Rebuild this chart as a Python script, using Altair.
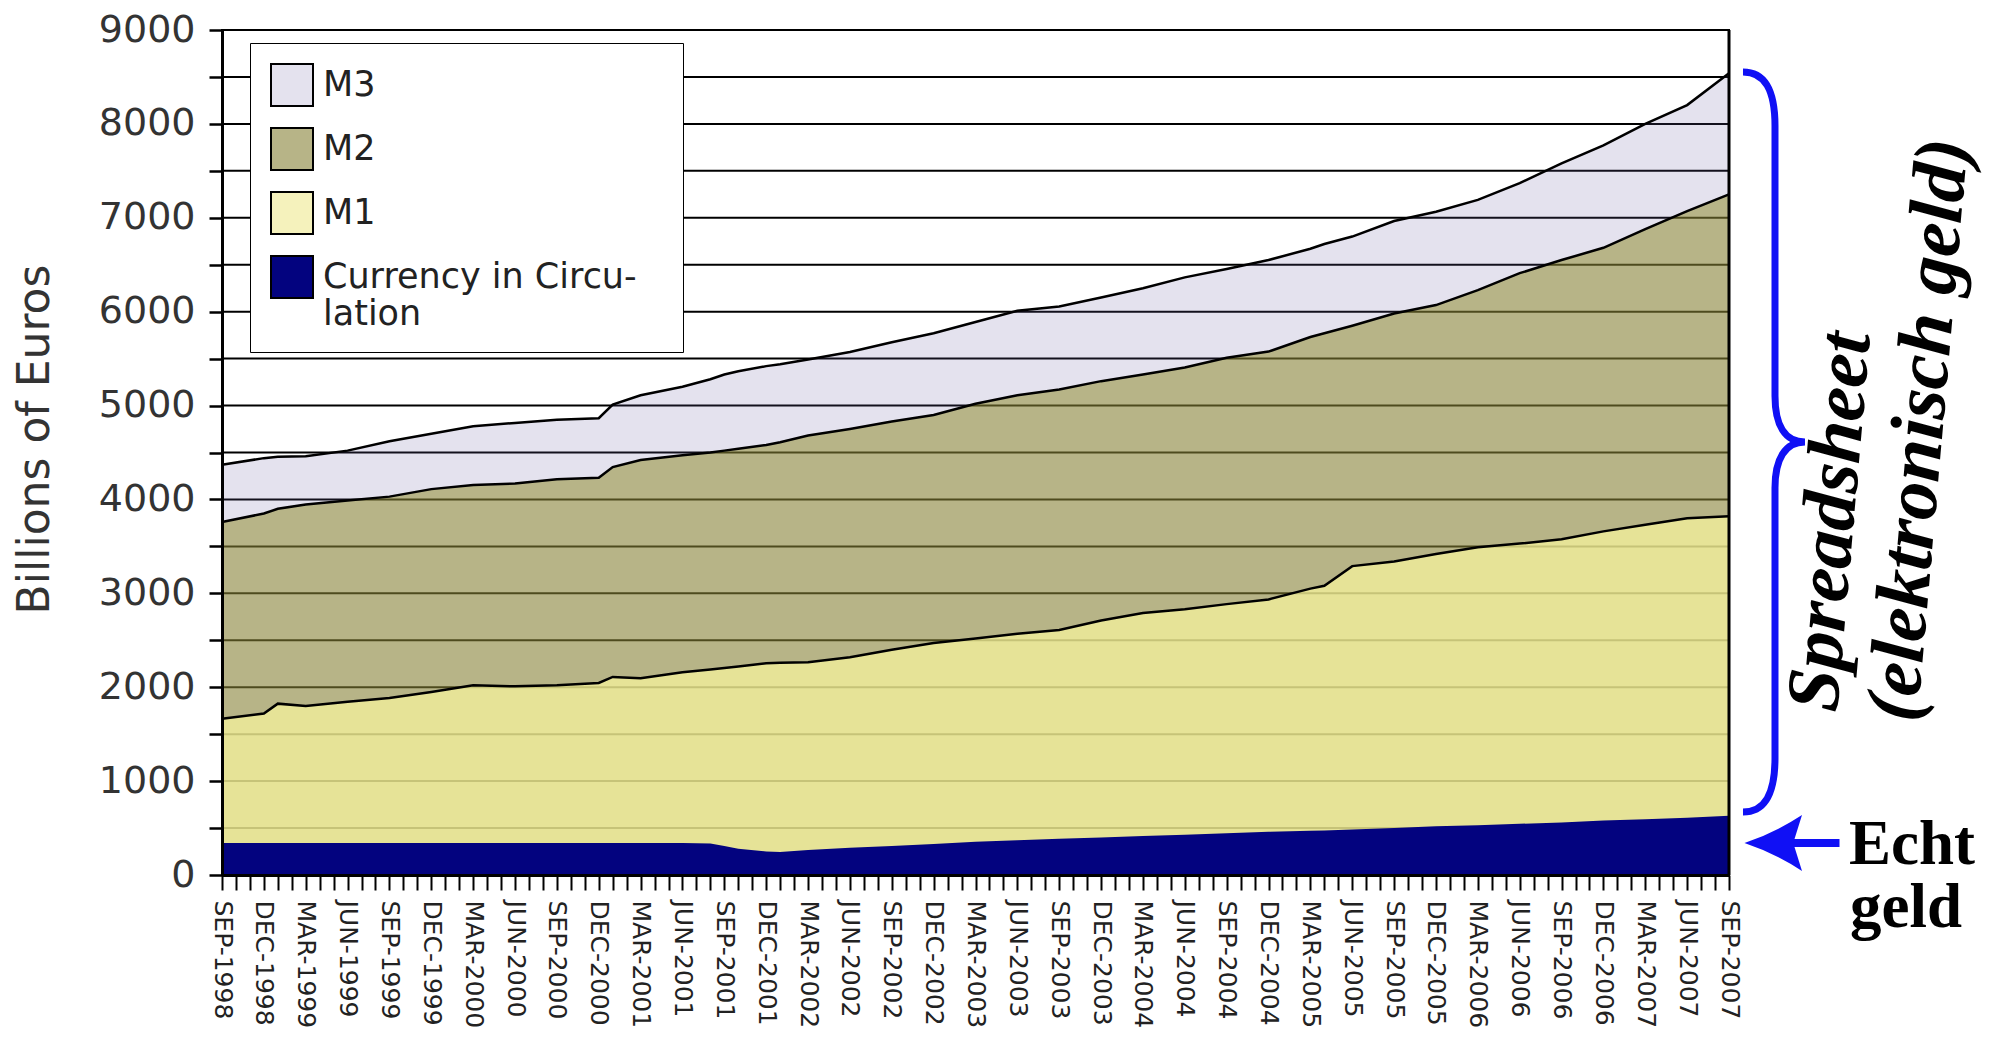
import json
import pandas as pd
import altair as alt

# ---------------- data (billions of euros) ----------------
MONTH_IDX = [0, 3, 4, 6, 9, 12, 15, 18, 21, 24,
             27, 28, 30, 33, 35, 36, 37, 39, 40, 42,
             45, 48, 51, 54, 57, 60, 63, 66, 69, 72,
             75, 78, 79, 81, 84, 87, 90, 93, 96, 99,
             102, 105, 108]
M3 = [4370, 4440, 4455, 4460, 4520, 4620, 4700, 4780, 4815, 4850,
      4865, 5010, 5110, 5200, 5280, 5330, 5365, 5420, 5440, 5490,
      5570, 5675, 5770, 5890, 6010, 6055, 6150, 6250, 6365, 6455,
      6550, 6670, 6720, 6800, 6965, 7065, 7190, 7370, 7580, 7770,
      8000, 8200, 8540]
M2 = [3760, 3850, 3900, 3945, 3990, 4030, 4110, 4155, 4170, 4215,
      4230, 4345, 4420, 4470, 4500, 4520, 4540, 4580, 4610, 4680,
      4750, 4830, 4900, 5020, 5110, 5170, 5260, 5330, 5405, 5510,
      5575, 5730, 5770, 5850, 5980, 6070, 6230, 6410, 6550, 6680,
      6880, 7070, 7250]
M1 = [1665, 1720, 1825, 1800, 1845, 1885, 1950, 2020, 2010, 2020,
      2045, 2110, 2095, 2160, 2190, 2205, 2220, 2255, 2260, 2265,
      2320, 2400, 2470, 2520, 2570, 2610, 2710, 2790, 2830, 2885,
      2935, 3050, 3080, 3290, 3340, 3420, 3490, 3530, 3575, 3660,
      3730, 3800, 3820]
CURRENCY = [340, 340, 340, 340, 340, 340, 340, 340, 340, 340,
            340, 340, 340, 340, 335, 310, 280, 250, 245, 265,
            290, 310, 330, 355, 370, 385, 400, 415, 430, 445,
            460, 470, 475, 485, 500, 520, 530, 545, 560, 580,
            595, 610, 630]

TICK_LABELS = ["SEP-1998", "DEC-1998", "MAR-1999", "JUN-1999", "SEP-1999", "DEC-1999",
               "MAR-2000", "JUN-2000", "SEP-2000", "DEC-2000", "MAR-2001", "JUN-2001",
               "SEP-2001", "DEC-2001", "MAR-2002", "JUN-2002", "SEP-2002", "DEC-2002",
               "MAR-2003", "JUN-2003", "SEP-2003", "DEC-2003", "MAR-2004", "JUN-2004",
               "SEP-2004", "DEC-2004", "MAR-2005", "JUN-2005", "SEP-2005", "DEC-2005",
               "MAR-2006", "JUN-2006", "SEP-2006", "DEC-2006", "MAR-2007", "JUN-2007",
               "SEP-2007"]
X_MAX = 108
X_TICKS = list(range(0, X_MAX + 1))
Y_TICKS = list(range(0, 9001, 500))
GRID_VALUES = list(range(500, 9001, 500))

SERIES = ["M3", "M2", "M1", "Currency in Circulation"]
LEGEND_COLORS = ["#e4e2ee", "#b7b487", "#f5f2bc", "#03037f"]
LEGEND_LINES = {"Currency in Circulation": ["Currency in Circu-\u2800", "lation"]}

Y_TITLE = "Billions of Euros"
BRACE_TEXT = ["Spreadsheet", "(elektronisch geld)"]
ARROW_TEXT = ["Echt", "geld"]

BLUE = "#1010f5"

df = pd.DataFrame({"month": MONTH_IDX, "M3": M3, "M2": M2, "M1": M1, "CUR": CURRENCY})

# ---------------- encodings ----------------
label_expr_x = "datum.value % 3 == 0 ? " + json.dumps(TICK_LABELS) + "[round(datum.value / 3)] : ''"

XSCALE = alt.Scale(domain=[0, X_MAX], nice=False, zero=False)
XAXIS = alt.Axis(values=X_TICKS, labelExpr=label_expr_x, grid=False,
                 tickSize=15, tickWidth=2, tickColor="black", domainColor="black",
                 domainWidth=3, labelAngle=90, labelAlign="left", labelBaseline="middle",
                 labelFont="DejaVu Sans", labelFontSize=25, labelColor="#222222",
                 labelPadding=10, labelOverlap=False, labelBound=False, labelFlush=False,
                 zindex=1)

YSCALE = alt.Scale(domain=[0, 9000], nice=False, zero=True)
YAXIS = alt.Axis(values=Y_TICKS, format="d",
                 labelExpr="datum.value % 1000 == 0 ? datum.label : ''",
                 grid=False, tickSize=13, tickWidth=2.5, tickColor="black",
                 domainColor="black", domainWidth=3, labelFont="DejaVu Sans",
                 labelFontSize=38, labelColor="#333333", labelPadding=14,
                 labelOverlap=False,
                 titleFont="DejaVu Sans", titleFontSize=44, titleFontWeight="normal",
                 titleColor="#333333", titleX=-174, titleY=409, titleAngle=270,
                 titleAlign="center", titleBaseline="alphabetic", zindex=1)


def xenc(field="month"):
    return alt.X(field + ":Q", scale=XSCALE, axis=XAXIS, title=None)


def yenc(field):
    return alt.Y(field + ":Q", scale=YSCALE, axis=YAXIS, title=Y_TITLE)


base = alt.Chart(df)

grid_df = pd.DataFrame({"g": GRID_VALUES})
grid = alt.Chart(grid_df).mark_rule(color="black", strokeWidth=2).encode(y=yenc("g"))

area_m3 = base.mark_area(color="#695ea0", opacity=0.18).encode(x=xenc(), y=yenc("M3"))
area_m2 = base.mark_area(color="#8a8620", opacity=0.5).encode(x=xenc(), y=yenc("M2"))
area_m1 = base.mark_area(color="#f9f69e", opacity=0.7).encode(x=xenc(), y=yenc("M1"))
area_cur = base.mark_area(color="#03037f", opacity=1).encode(x=xenc(), y=yenc("CUR"))

line_m3 = base.mark_line(color="black", strokeWidth=2.5).encode(x=xenc(), y=yenc("M3"))
line_m2 = base.mark_line(color="black", strokeWidth=2.5).encode(x=xenc(), y=yenc("M2"))
line_m1 = base.mark_line(color="black", strokeWidth=2.5).encode(x=xenc(), y=yenc("M1"))

right_border = alt.Chart(pd.DataFrame({"b": [X_MAX]})).mark_rule(
    color="black", strokeWidth=3).encode(x=xenc("b"))

# legend carrier (invisible marks)
label_expr_legend = ("datum.label == 'Currency in Circulation' ? "
                     + json.dumps(LEGEND_LINES["Currency in Circulation"]) + " : datum.label")
legend_df = pd.DataFrame({"series": SERIES, "month": [0] * len(SERIES), "v": [0] * len(SERIES)})
legend_layer = alt.Chart(legend_df).mark_square(opacity=0, size=1).encode(
    x=xenc(), y=yenc("v"),
    color=alt.Color("series:N", scale=alt.Scale(domain=SERIES, range=LEGEND_COLORS),
                    legend=alt.Legend(title=None, orient="none", legendX=28, legendY=13,
                                      direction="vertical", labelExpr=label_expr_legend,
                                      symbolType="square", symbolSize=1764,
                                      symbolStrokeColor="black", symbolStrokeWidth=2,
                                      symbolOpacity=1, labelFont="DejaVu Sans",
                                      labelFontSize=35, labelColor="#222222",
                                      labelOffset=9, labelLimit=600, rowPadding=14,
                                      padding=20, fillColor="white", strokeColor="black",
                                      zindex=1)))

one = pd.DataFrame({"a": [0]})
BRACE_PATH = ("M -0.0838 -1 C -0.0243 -1 0.0027 -0.9514 0.0027 -0.8541 "
              "L 0.0027 -0.1243 C 0.0027 -0.0459 0.0297 0 0.0838 0 "
              "C 0.0297 0 0.0027 0.0459 0.0027 0.1243 "
              "L 0.0027 0.8541 C 0.0027 0.9514 -0.0243 1 -0.0838 1")
brace = alt.Chart(one).mark_point(shape=BRACE_PATH, size=547600, filled=False,
                                  strokeWidth=7, color=BLUE, opacity=1).encode(
    x=alt.value(1552), y=alt.value(412))

ARROW_PATH = ("M -0.95 0 Q -0.35 -0.2 0.2 -0.56 L 0.05 -0.08 L 0.95 -0.08 "
              "L 0.95 0.08 L 0.05 0.08 L 0.2 0.56 Q -0.35 0.2 -0.95 0 Z")
arrow = alt.Chart(one).mark_point(shape=ARROW_PATH, size=10000, filled=True,
                                  strokeWidth=0, color=BLUE, opacity=1).encode(
    x=alt.value(1570), y=alt.value(813))

t_spread = alt.Chart(pd.DataFrame({"t": [BRACE_TEXT[0]]})).mark_text(
    font="Liberation Serif", fontSize=76, fontWeight="bold", fontStyle="italic",
    angle=275, align="left", baseline="alphabetic", color="black").encode(
    text="t:N", x=alt.value(1615), y=alt.value(683))
t_elek = alt.Chart(pd.DataFrame({"t": [BRACE_TEXT[1]]})).mark_text(
    font="Liberation Serif", fontSize=76, fontWeight="bold", fontStyle="italic",
    angle=275, align="left", baseline="alphabetic", color="black").encode(
    text="t:N", x=alt.value(1695), y=alt.value(693))
t_echt = alt.Chart(pd.DataFrame({"t": [ARROW_TEXT[0]]})).mark_text(
    font="Liberation Serif", fontSize=63, fontWeight="bold", align="center",
    baseline="alphabetic", color="black").encode(
    text="t:N", x=alt.value(1690), y=alt.value(834))
t_geld = alt.Chart(pd.DataFrame({"t": [ARROW_TEXT[1]]})).mark_text(
    font="Liberation Serif", fontSize=63, fontWeight="bold", align="center",
    baseline="alphabetic", color="black").encode(
    text="t:N", x=alt.value(1684), y=alt.value(897))

chart = alt.layer(
    grid, area_m3, area_m2, area_m1, area_cur,
    line_m3, line_m2, line_m1, right_border, legend_layer,
    brace, arrow, t_spread, t_elek, t_echt, t_geld
).properties(
    width=1507, height=845,
    autosize=alt.AutoSizeParams(type="none"),
    padding={"left": 214, "top": 22, "right": 268, "bottom": 160},
    background="white",
).configure_view(stroke="black", strokeWidth=2)

chart.save("out.html", embed_options={"renderer": "svg", "actions": False})
